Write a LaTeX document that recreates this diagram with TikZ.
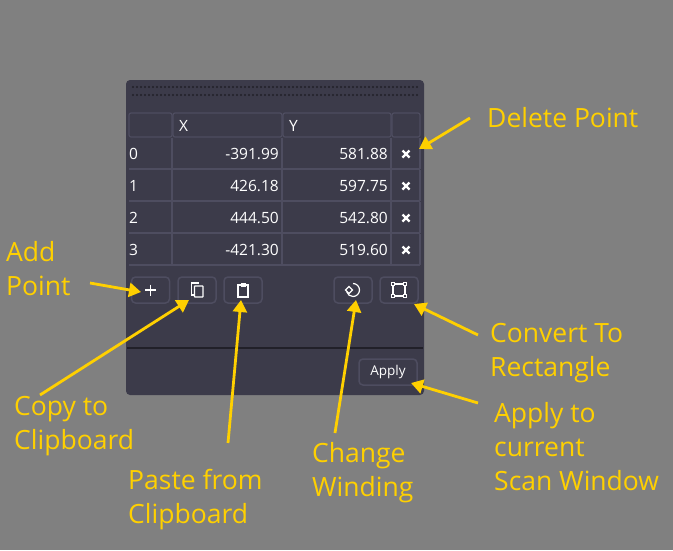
\documentclass[tikz,border=0pt]{standalone}
\usepackage{fontspec}
\setmainfont{Open Sans}
\usetikzlibrary{arrows.meta}
\definecolor{bg}{HTML}{808080}
\definecolor{panel}{HTML}{3C3B4A}
\definecolor{cellb}{HTML}{4E4D60}
\definecolor{ylw}{HTML}{FFD000}
\begin{document}
\begin{tikzpicture}[x=1pt,y=-1pt,
  cell/.style={draw=cellb,line width=1.2pt,rounded corners=2pt},
  btn/.style={draw=cellb,line width=1.5pt,rounded corners=4pt,minimum width=38pt,minimum height=26pt,inner sep=0pt,text=white,font=\fontsize{13.5}{13.5}\selectfont},
  txt/.style={text=white,font=\fontsize{15.5}{15.5}\selectfont,inner sep=0pt},
  lbl/.style={text=ylw,font=\fontsize{26.5}{34}\selectfont,align=left,inner sep=0pt,anchor=north west},
  arr/.style={draw=ylw,line width=2.8pt,-{Triangle[length=12pt,width=14pt]}}]
\fill[bg] (0,0) rectangle (673,550);
\useasboundingbox (0,0) rectangle (673,550);
\fill[panel,rounded corners=4pt] (126,80) rectangle (424,395);
\foreach \yy in {87,95}{\foreach \xx in {133,137,...,417}{\fill[black!45!panel] (\xx,\yy) circle (1.2);}}
% header
\draw[cell] (129,113) rectangle (172,137);
\draw[cell] (173,113) rectangle (282,137);
\draw[cell] (283,113) rectangle (391,137);
\draw[cell] (392,113) rectangle (420,137);
\node[txt,anchor=west] (hx) at (179,126) {X};
\node[txt,anchor=west] (hy) at (289,126) {Y};
% rows
\foreach \i/\a/\b in {0/-391.99/581.88,1/426.18/597.75,2/444.50/542.80,3/-421.30/519.60}{
  \pgfmathsetmacro\top{138+32*\i}
  \draw[cellb,line width=1.2pt] (172,\top) -- ++(0,31) (282,\top) -- ++(0,31) (391,\top) -- ++(0,31) (420,\top) -- ++(0,31);
  \draw[cellb,line width=1.2pt] (129,\top+31) -- (420,\top+31);
  \node[txt,anchor=west] (r\i) at (129,\top+16) {\i};
  \node[txt,anchor=east] (x\i) at (279,\top+16) {\a};
  \node[txt,anchor=east] (y\i) at (388,\top+16) {\b};
  \coordinate (d\i) at (406,\top+16);
  \draw[white,line width=2.2pt] (d\i) ++(-3.5,-3.5) -- ++(7,7) (d\i) ++(3.5,-3.5) -- ++(-7,7);
}
% buttons
\node[btn] (add) at (150.5,290) {};
\draw[white,line width=1.3pt] (145,290) -- (156,290) (150.5,284.5) -- (150.5,295.5);
\node[btn] (copy) at (197,290) {};
\draw[white,line width=1.2pt] (194,295) -- (191.5,295) -- (191.5,283) -- (199,283);
\draw[white,line width=1.2pt,rounded corners=0.5pt] (194.5,286) rectangle (203,297);
\node[btn] (paste) at (243,290) {};
\draw[white,line width=1.3pt] (238,285) rectangle (248,297);
\fill[white] (240.5,282.5) rectangle (245.5,287);
\node[btn] (wind) at (353,290) {};
\draw[white,line width=1.2pt] (353,283.5) arc (-90:165:6.5);
\draw[white,line width=1.2pt] (345.5,290) -- (349,286.5) -- (352.5,290) -- (349,293.5) -- cycle;
\node[btn] (rect) at (399,290) {};
\draw[white,line width=1.2pt] (393,284) rectangle (405,296);
\foreach \p in {(393,284),(405,284),(393,296),(405,296)}{\fill[panel,draw=white,line width=0.8pt] \p ++(-1.6,-1.6) rectangle ++(3.2,3.2);}
\draw[black!45!panel,line width=1.5pt] (127,348) -- (423,348);
\node[btn,minimum width=58pt] (apply) at (388,372) {Apply};
% labels
\node[lbl] (lDel) at (487,107) {Delete Point};
\node[lbl] (lAdd) at (6,241) {Add\\Point};
\node[lbl] (lCopy) at (14,396) {Copy to\\Clipboard};
\node[lbl] (lPaste) at (128,469) {Paste from\\Clipboard};
\node[lbl] (lWind) at (312,442) {Change\\Winding};
\node[lbl] (lRect) at (490,323) {Convert To\\Rectangle};
\node[lbl] (lApply) at (494,402) {Apply to\\current\\Scan Window};
% arrows
\coordinate (sDel) at (470,118); \coordinate (sAdd) at (90,283);
\coordinate (sCopy) at (40,395); \coordinate (sPaste) at (228,443);
\coordinate (sWind) at (335,433); \coordinate (sRect) at (478,335);
\coordinate (sApply) at (478,403);
\coordinate (eDel) at (419,149); \coordinate (eAdd) at (141,292);
\coordinate (eCopy) at (189,300); \coordinate (ePaste) at (241,300);
\coordinate (eWind) at (356,300); \coordinate (eRect) at (414,304);
\coordinate (eApply) at (411,383);
\foreach \n in {Del,Add,Copy,Paste,Wind,Rect,Apply}{\draw[arr] (s\n) -- (e\n);}
\end{tikzpicture}
\end{document}
